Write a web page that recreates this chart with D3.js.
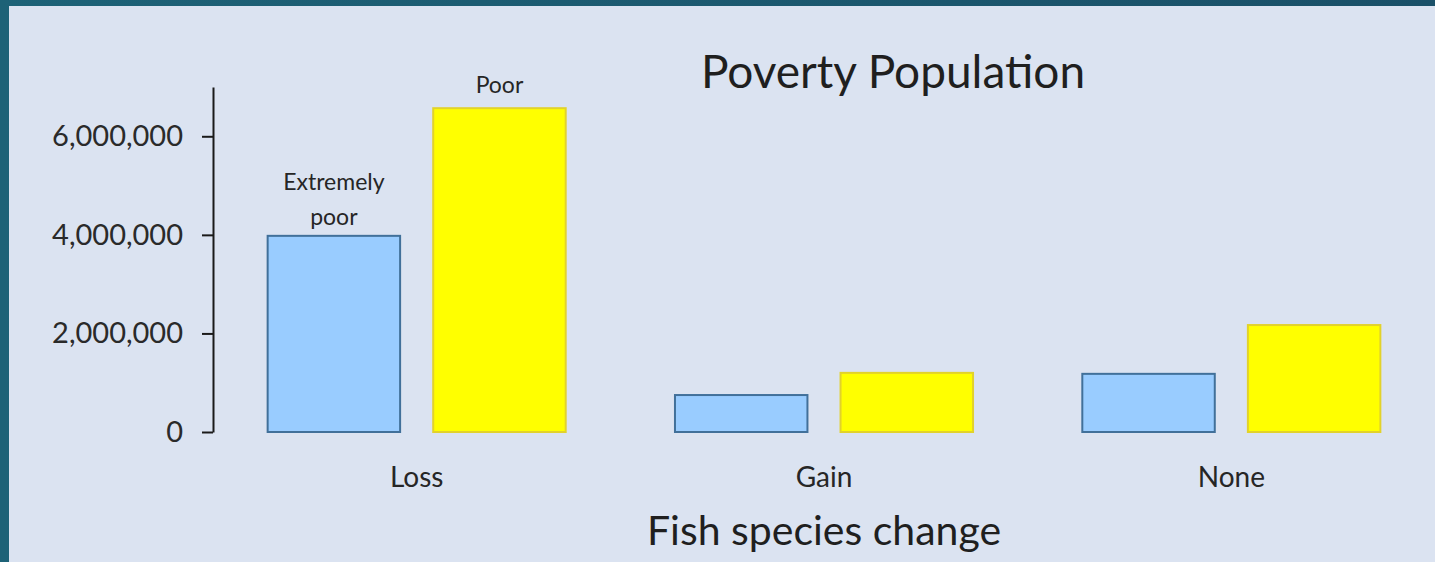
<!DOCTYPE html>
<html>
<head>
<meta charset="utf-8">
<script src="https://cdn.jsdelivr.net/npm/d3@7"></script>
<style>
  html, body { margin: 0; padding: 0; background: #1a5068; }
  svg { display: block; }
  .y--axis text { font-family: Lato, sans-serif; font-size: 29px; fill: #2a2a2a; }
  .y--axis path, .y--axis line { stroke: #1a1a1a; stroke-width: 2; }
</style>
</head>
<body>
<div id="canvas"></div>
<script>
const categories = ["Loss", "Gain", "None"];
const seriesNames = ["Extremely poor", "Poor"];
const extremelyPoor = [3980000, 750000, 1180000];
const poor = [6570000, 1200000, 2170000];
const yTicks = [0, 2000000, 4000000, 6000000];

const width = 1435;
const height = 562;
const margin = { top: 87, left: 213, bottom: 130, right: 0 };
const iwidth = width - margin.left - margin.right;
const iheight = height - margin.top - margin.bottom;

const svg = d3.select("#canvas").append("svg")
    .attr("width", width)
    .attr("height", height);

// dark teal frame + light panel
const grad = svg.append("defs").append("linearGradient")
    .attr("id", "bg").attr("x1", 0).attr("x2", 1).attr("y1", 0).attr("y2", 0);
grad.append("stop").attr("offset", "0%").attr("stop-color", "#1d6277");
grad.append("stop").attr("offset", "100%").attr("stop-color", "#1a5068");
svg.append("rect").attr("width", width).attr("height", height).attr("fill", "url(#bg)");
svg.append("rect")
    .attr("x", 9).attr("y", 6)
    .attr("width", width - 9).attr("height", height - 6)
    .attr("fill", "#dbe3f1");

const g = svg.append("g").attr("transform", `translate(${margin.left},${margin.top})`);

const y = d3.scaleLinear()
    .domain([0, 7000000])
    .range([iheight, 0]);

const x0 = d3.scaleBand()
    .domain(categories)
    .range([0, iwidth]);

const x1 = d3.scaleBand()
    .domain(seriesNames)
    .range([0, x0.bandwidth()])
    .paddingInner(0.2)
    .paddingOuter(0.33);

const fills = { "Extremely poor": "#99ccff", "Poor": "#ffff00" };
const strokes = { "Extremely poor": "#41709a", "Poor": "#e2d22a" };

const rows = categories.map((c, i) => ({
    cat: c,
    vals: [
        { s: "Extremely poor", v: extremelyPoor[i] },
        { s: "Poor", v: poor[i] }
    ]
}));

const groups = g.selectAll("g.grp").data(rows).enter().append("g")
    .attr("class", "grp")
    .attr("transform", d => `translate(${x0(d.cat)},0)`);

groups.selectAll("rect").data(d => d.vals).enter().append("rect")
    .attr("x", d => x1(d.s))
    .attr("y", d => y(d.v))
    .attr("width", x1.bandwidth())
    .attr("height", d => iheight - y(d.v))
    .attr("fill", d => fills[d.s])
    .attr("stroke", d => strokes[d.s])
    .attr("stroke-width", 2);

g.append("g")
    .classed("y--axis", true)
    .call(d3.axisLeft(y).tickValues(yTicks).tickFormat(d3.format(",")).tickSize(11).tickSizeOuter(0).tickPadding(19));

// category labels (no axis line)
g.selectAll("text.cat").data(categories).enter().append("text")
    .attr("class", "cat")
    .attr("x", d => x0(d) + x0.bandwidth() / 2)
    .attr("y", iheight + 55)
    .attr("text-anchor", "middle")
    .style("font-family", "Lato, sans-serif")
    .style("font-size", "28px")
    .style("fill", "#262626")
    .text(d => d);

// series labels above the Loss bars
const first = categories[0];
const epLabel = g.append("text")
    .attr("text-anchor", "middle")
    .style("font-family", "Lato, sans-serif")
    .style("font-size", "23px")
    .style("fill", "#262626");
epLabel.append("tspan")
    .attr("x", x0(first) + x1("Extremely poor") + x1.bandwidth() / 2)
    .attr("y", y(extremelyPoor[0]) - 46)
    .text("Extremely");
epLabel.append("tspan")
    .attr("x", x0(first) + x1("Extremely poor") + x1.bandwidth() / 2)
    .attr("y", y(extremelyPoor[0]) - 11)
    .text("poor");

g.append("text")
    .attr("x", x0(first) + x1("Poor") + x1.bandwidth() / 2)
    .attr("y", y(poor[0]) - 15)
    .attr("text-anchor", "middle")
    .style("font-family", "Lato, sans-serif")
    .style("font-size", "23px")
    .style("fill", "#262626")
    .text("Poor");

svg.append("text")
    .attr("x", 893)
    .attr("y", 88)
    .attr("text-anchor", "middle")
    .style("font-family", "Lato, sans-serif")
    .style("font-size", "46px")
    .style("fill", "#1f1f1f")
    .text("Poverty Population");

svg.append("text")
    .attr("x", margin.left + x0("Gain") + x0.bandwidth() / 2)
    .attr("y", 545)
    .attr("text-anchor", "middle")
    .style("font-family", "Lato, sans-serif")
    .style("font-size", "41px")
    .style("fill", "#1f1f1f")
    .text("Fish species change");
</script>
</body>
</html>
